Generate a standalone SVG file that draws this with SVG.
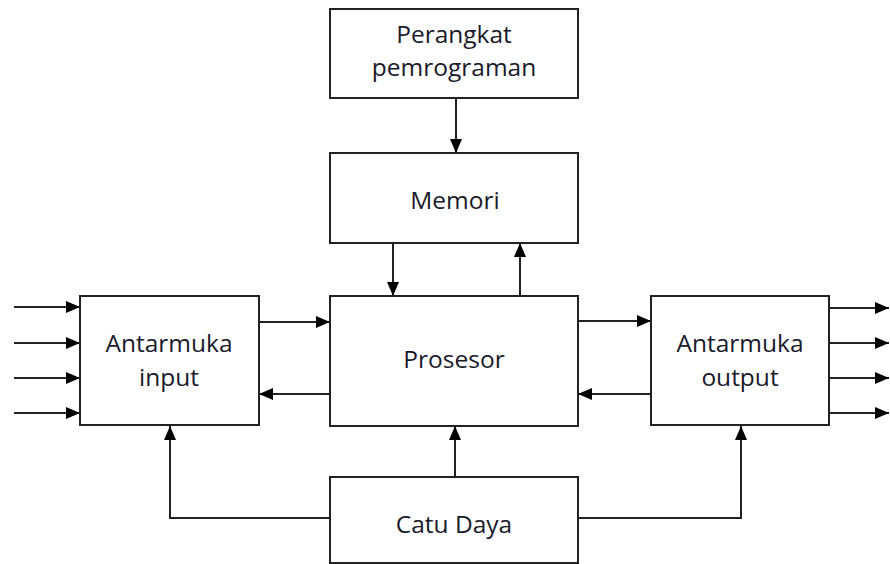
<svg xmlns="http://www.w3.org/2000/svg" width="890" height="564" viewBox="0 0 890 564">
<defs>
<marker id="ah" markerUnits="userSpaceOnUse" markerWidth="14" markerHeight="12" refX="14" refY="6" orient="auto">
<path d="M0,0 L14,6 L0,12 z" fill="#000"/>
</marker>
<style>
.box{fill:#fff;stroke:#222;stroke-width:2}
.lbl{font-family:"Open Sans","Liberation Sans",sans-serif;font-size:24.5px;fill:#1a1a2a;text-anchor:middle}
.c{fill:none;stroke:#222;stroke-width:2}
.a{marker-end:url(#ah)}
</style>
</defs>
<rect width="890" height="564" fill="#fff"/>
<g id="connectors">
<path class="c a" d="M456,98 V153"/>
<path class="c a" d="M393,243 V296"/>
<path class="c a" d="M520,296 V243"/>
<path class="c a" d="M14,307 H80"/>
<path class="c a" d="M14,343 H80"/>
<path class="c a" d="M14,378 H80"/>
<path class="c a" d="M14,413 H80"/>
<path class="c a" d="M259,322 H330"/>
<path class="c a" d="M330,394 H259"/>
<path class="c a" d="M578,321 H651"/>
<path class="c a" d="M651,394 H578"/>
<path class="c a" d="M829,308 H889"/>
<path class="c a" d="M829,343 H889"/>
<path class="c a" d="M829,378 H889"/>
<path class="c a" d="M829,413 H889"/>
<path class="c a" d="M330,518 H170 V426"/>
<path class="c a" d="M455,477 V426"/>
<path class="c a" d="M578,518 H741 V426"/>
</g>
<g id="perangkat">
<rect class="box" x="330" y="9" width="248" height="89"/>
<text class="lbl" x="454" y="43">Perangkat</text>
<text class="lbl" x="454" y="76">pemrograman</text>
</g>
<g id="memori">
<rect class="box" x="330" y="153" width="248" height="90"/>
<text class="lbl" x="455" y="209">Memori</text>
</g>
<g id="input">
<rect class="box" x="80" y="296" width="179" height="129"/>
<text class="lbl" x="169" y="352">Antarmuka</text>
<text class="lbl" x="169" y="386">input</text>
</g>
<g id="prosesor">
<rect class="box" x="330" y="296" width="248" height="130"/>
<text class="lbl" x="454" y="368">Prosesor</text>
</g>
<g id="output">
<rect class="box" x="651" y="296" width="178" height="129"/>
<text class="lbl" x="740" y="352">Antarmuka</text>
<text class="lbl" x="740" y="386">output</text>
</g>
<g id="catudaya">
<rect class="box" x="330" y="477" width="248" height="86"/>
<text class="lbl" x="454" y="533">Catu Daya</text>
</g>
</svg>
